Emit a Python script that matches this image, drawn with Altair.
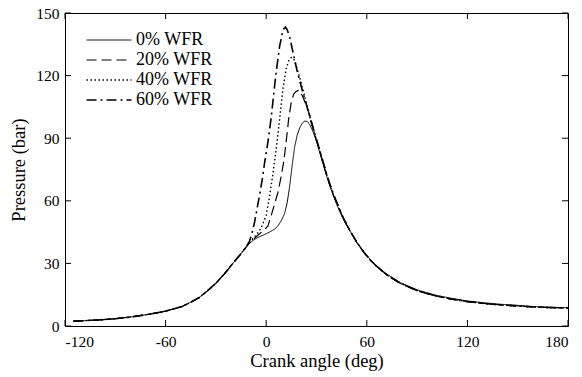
import altair as alt
import pandas as pd

# shared compression part
common_angle = [-115, -110, -100, -90, -80, -70, -60, -50, -45, -40, -35, -30, -25, -20, -15, -12]
common_p = [2.3, 2.5, 2.9, 3.5, 4.4, 5.6, 7.1, 9.4, 11.4, 13.6, 16.9, 20.5, 24.9, 29.9, 34.7, 37.8]

# 0% WFR
a0 = [-10, -7, -4, -1, 2, 5, 7, 9, 11, 12.5, 14, 15.5, 17, 18.5, 20, 21.5, 23, 24.5, 26, 28, 30,
      32, 34, 36, 38, 40, 43, 46, 50, 54, 58, 62, 66, 72, 80, 90, 100, 110, 120, 130, 140, 150, 160, 170, 180]
p0 = [39.6, 41.5, 42.8, 43.8, 45, 46.4, 48, 50.5, 54, 59, 67, 77, 86, 91.5, 95, 97.2, 98.2, 98, 96.5, 93, 88.5,
      83, 77.5, 72, 67, 62.5, 56.5, 51.2, 45.5, 40.2, 35.8, 32, 28.8, 24.8, 20.8, 17.3, 15, 13.3, 12, 11.1, 10.4, 9.9, 9.3, 9, 8.8]

# descent angles for the other three cases
desc_angle = [32, 34, 36, 38, 40, 43, 46, 50, 54, 58, 62, 66, 72, 80, 90, 100, 110, 120, 130, 140, 150, 160, 170, 180]

# 20% WFR
a20 = [-10, -8, -5, -2, 1, 3, 5, 7, 9, 10.5, 12, 13.5, 15, 16.5, 18, 19.5, 20.5, 22, 24, 26, 28, 30]
p20 = [39.8, 41.3, 43.5, 45.5, 47.8, 53, 58.5, 64, 72, 79, 89, 100, 107.5, 111.3, 112.5, 113, 112, 109.5, 105.5, 101, 95, 89]
d20 = [83.5, 78, 72.5, 67.5, 63, 57, 51.5, 45.5, 40, 35.5, 31.6, 28.4, 24.4, 20.4, 16.9, 14.6, 12.9, 11.7, 10.8, 10.1, 9.6, 9.1, 8.8, 8.6]

# 40% WFR
a40 = [-10, -6, -3, 0, 2, 4, 6, 8, 10, 12, 13.5, 15, 16.5, 18, 20, 22, 24, 27, 30]
p40 = [40, 43.5, 47, 53, 62, 73, 85, 99, 114, 123.5, 127.3, 128.7, 127.8, 124.5, 119, 113, 106.5, 97, 89]
d40 = [83.8, 78.3, 72.8, 67.8, 63.2, 57.2, 51.6, 45.6, 40.1, 35.6, 31.7, 28.5, 24.5, 20.5, 17, 14.7, 13, 11.7, 10.8, 10.1, 9.6, 9.1, 8.8, 8.6]

# 60% WFR
a60 = [-10, -8.5, -7, -5.5, -4, -2.5, -1, 1, 3, 5, 6.5, 8, 9.5, 10.5, 11.5, 12.5, 14, 15.5, 17, 18.5, 20, 22, 24, 27, 30]
p60 = [40.5, 44.5, 49.5, 56, 62.5, 69.5, 78, 88, 100, 115, 125, 134, 140, 142.5, 143.3, 142, 138.5, 133, 127.5, 122, 117.5, 111.5, 106, 97.5, 89.5]
d60 = [84, 78.5, 73, 68, 63.4, 57.4, 51.8, 45.7, 40.2, 35.6, 31.7, 28.5, 24.5, 20.5, 17, 14.7, 13, 11.7, 10.8, 10.1, 9.6, 9.1, 8.8, 8.6]

series = ["0% WFR", "20% WFR", "40% WFR", "60% WFR"]
x_ticks = [-120, -60, 0, 60, 120, 180]
y_ticks = [0, 30, 60, 90, 120, 150]

rows = []
def add(name, ang, pr):
    for a, p in zip(ang, pr):
        rows.append({"angle": a, "pressure": p, "series": name})

add(series[0], common_angle + a0, common_p + p0)
add(series[1], common_angle + a20 + desc_angle, common_p + p20 + d20)
add(series[2], common_angle + a40 + desc_angle, common_p + p40 + d40)
add(series[3], common_angle + a60 + desc_angle, common_p + p60 + d60)
df = pd.DataFrame(rows)

W, H = 503, 313
FONT = "Liberation Serif"

xs = alt.Scale(domain=[-120, 180], nice=False)
ys = alt.Scale(domain=[0, 150], nice=False)

lines = alt.Chart(df).mark_line(color="black").encode(
    x=alt.X("angle:Q", scale=xs, title="Crank angle (deg)",
            axis=alt.Axis(values=x_ticks, labelExpr="'' + datum.value", tickSize=0,
                          labelPadding=8, titlePadding=2, grid=False)),
    y=alt.Y("pressure:Q", scale=ys, title="Pressure (bar)",
            axis=alt.Axis(values=y_ticks, tickSize=0, labelPadding=6, titlePadding=7, grid=False)),
    strokeDash=alt.StrokeDash(
        "series:N",
        scale=alt.Scale(domain=series, range=[[1, 0], [10, 5], [1.5, 2.5], [10, 4, 2, 4]]),
        legend=alt.Legend(title=None, orient="none", legendX=35, legendY=18, padding=0,
                          symbolType="M-3,0H3", symbolSize=225, symbolStrokeWidth=1.3,
                          symbolStrokeColor="black", symbolFillColor="transparent",
                          labelFont=FONT, labelFontSize=18,
                          labelColor="black", labelOffset=18, rowPadding=2),
    ),
    strokeWidth=alt.StrokeWidth(
        "series:N",
        scale=alt.Scale(domain=series, range=[1.0, 1.6, 1.3, 1.6]),
        legend=None,
    ),
    order=alt.Order("angle:Q"),
)

xt = pd.DataFrame({"v": x_ticks})
yt = pd.DataFrame({"v": y_ticks})
tick_style = dict(color="black", strokeWidth=1)
xb = alt.Chart(xt).mark_rule(**tick_style).encode(x=alt.X("v:Q", scale=xs), y=alt.value(H), y2=alt.value(H - 6))
xtp = alt.Chart(xt).mark_rule(**tick_style).encode(x=alt.X("v:Q", scale=xs), y=alt.value(0), y2=alt.value(6))
yl = alt.Chart(yt).mark_rule(**tick_style).encode(y=alt.Y("v:Q", scale=ys), x=alt.value(0), x2=alt.value(6))
yr = alt.Chart(yt).mark_rule(**tick_style).encode(y=alt.Y("v:Q", scale=ys), x=alt.value(W), x2=alt.value(W - 6))

chart = alt.layer(lines, xb, xtp, yl, yr).properties(
    width=W, height=H,
    background="white",
    autosize=alt.AutoSizeParams(type="none"),
    padding={"left": 65, "top": 13, "right": 14, "bottom": 51},
).configure_view(stroke="black", strokeWidth=1).configure_axis(
    labelFont=FONT, titleFont=FONT, labelFontSize=15.5, titleFontSize=18.5,
    titleFontWeight="normal", labelColor="black", titleColor="black",
    domainColor="black", domainWidth=1,
)

chart.save("out.html", embed_options={"renderer": "svg", "actions": False})
